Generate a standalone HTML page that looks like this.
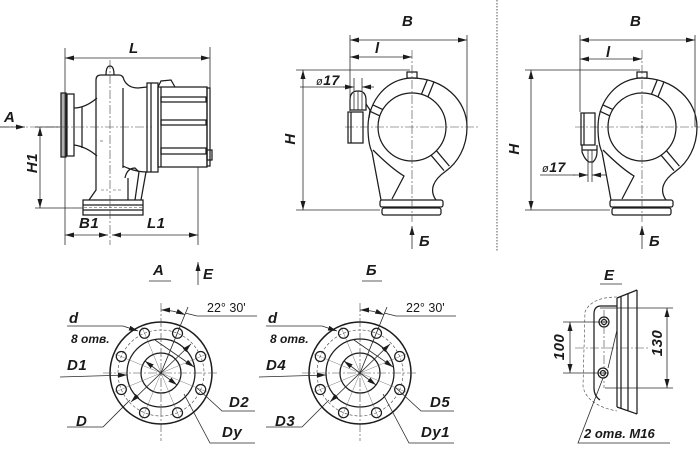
<!DOCTYPE html>
<html><head><meta charset="utf-8"><style>
html,body{margin:0;padding:0;background:#fff;}
svg{display:block;}
.s{stroke:#1c1c1c;stroke-width:1.25;fill:none;}
.t{stroke:#2a2a2a;stroke-width:0.8;fill:none;}
.c{stroke:#444;stroke-width:0.6;fill:none;stroke-dasharray:9 2 2 2;}
.d{stroke:#444;stroke-width:0.6;fill:none;stroke-dasharray:3 2;}
text{font-family:"Liberation Sans","Noto Sans CJK SC",sans-serif;fill:#1a1a1a;}
.L{font-size:15px;font-weight:bold;font-style:italic;letter-spacing:0.5px;}
.m{font-size:12px;font-weight:bold;font-style:italic;}
.n{font-size:12.5px;}
</style></head><body>
<svg width="700" height="470" viewBox="0 0 700 470" xmlns="http://www.w3.org/2000/svg">
<defs>
<marker id="a" markerWidth="9" markerHeight="5" refX="9" refY="2.5" orient="auto-start-reverse" markerUnits="userSpaceOnUse"><path d="M0,0 L9,2.5 L0,5 z" fill="#1c1c1c"/></marker>
</defs>

<!-- ============ LEFT VIEW ============ -->
<g class="s">
  <rect x="61" y="93" width="5" height="64" fill="#b0b0b0"/>
  <rect x="67" y="94" width="7" height="62"/>
  <path d="M74,108 C82,108 90,104 97,98"/>
  <path d="M74,145 C82,146 90,150 97,156"/>
  <line x1="82" y1="107" x2="82" y2="148"/>
  <path d="M89,200 L96,190 L96,80 Q96,75 101,75 L119,75 Q123,75 124,80 Q128,88 138,88 L147,87"/>
  <path d="M106,75 Q106,66 110,66 Q114,66 114,75"/>
  <line x1="123" y1="88" x2="123" y2="168"/>
  <path d="M123,166 Q135,172 147,172"/>
  <path d="M125,178 Q127,168 135,168 L139,172"/>
  <line x1="128" y1="178" x2="128" y2="200"/>
  <line x1="139" y1="172" x2="135" y2="200"/>
  <line x1="146" y1="172" x2="141" y2="200"/>
  <rect x="83" y="200" width="60" height="15"/>
  <line x1="83" y1="205" x2="143" y2="205"/>
  <line x1="83" y1="210" x2="143" y2="210"/>
  <rect x="147" y="83" width="11" height="89"/>
  <line x1="151" y1="83" x2="151" y2="172"/>
  <rect x="158" y="87" width="49" height="80"/>
  <line x1="161" y1="87" x2="161" y2="167"/>
  <rect x="207" y="88" width="3" height="78"/>
  <rect x="207" y="150" width="5" height="10"/>
  <path d="M158,87 L161,81 L171,80 L175,87"/>
  <rect x="161" y="97" width="45" height="5"/>
  <rect x="161" y="120" width="45" height="5"/>
  <rect x="161" y="148" width="45" height="6"/>
</g>
<g class="d">
  <line x1="84" y1="207.5" x2="142" y2="207.5"/>
  <line x1="100" y1="141" x2="104" y2="141"/>
  <line x1="101" y1="190" x2="108" y2="190"/>
  <line x1="113" y1="190" x2="121" y2="190"/>
</g>
<g class="c">
  <line x1="0" y1="127" x2="152" y2="127"/>
  <line x1="110" y1="60" x2="110" y2="245"/>
</g>
<g class="t">
  <line x1="65" y1="48" x2="65" y2="245"/>
  <line x1="210" y1="47" x2="210" y2="150"/>
  <line x1="198" y1="167" x2="198" y2="245"/>
  <line x1="35" y1="208" x2="83" y2="208"/>
  <line x1="35" y1="127" x2="60" y2="127"/>
  <line x1="65" y1="58" x2="210" y2="58" marker-start="url(#a)" marker-end="url(#a)"/>
  <line x1="40" y1="127" x2="40" y2="208" marker-start="url(#a)" marker-end="url(#a)"/>
  <line x1="65" y1="235" x2="108" y2="235" marker-start="url(#a)" marker-end="url(#a)"/>
  <line x1="112" y1="235" x2="198" y2="235" marker-start="url(#a)" marker-end="url(#a)"/>
  <line x1="0" y1="127" x2="25" y2="127" marker-end="url(#a)"/>
</g>
<text class="L" x="129" y="53">L</text>
<text class="L" x="4" y="122">A</text>
<text class="L" transform="translate(37,163) rotate(-90)" text-anchor="middle">H1</text>
<text class="L" x="79" y="228">B1</text>
<text class="L" x="147" y="228">L1</text>

<!-- ============ MIDDLE VIEW (volute) ============ -->
<g id="vol">
  <g class="s">
    <path d="M368,127 C368,100 388,78 412,78 C443,78 467,100 467,127 C467,148 457,163 446,171 C433,180 429,190 436,200"/>
    <path d="M368,127 C368,138 369,146 372,152 L381,200"/>
    <path d="M373,150 C385,162 394,170 404,176 L392,199"/>
    <circle cx="412" cy="127" r="34"/>
    <rect x="407" y="72" width="10" height="6"/>
    <rect x="380" y="200" width="63" height="7" rx="2"/>
    <rect x="382" y="208" width="59" height="7" rx="2"/>
    <g transform="translate(412,127) rotate(-68)"><line x1="34" y1="-3.5" x2="50" y2="-3.5"/><line x1="34" y1="3.5" x2="50" y2="3.5"/></g>
    <g transform="translate(412,127) rotate(-155)"><line x1="34" y1="-3.5" x2="45" y2="-3.5"/><line x1="34" y1="3.5" x2="45" y2="3.5"/></g>
    <g transform="translate(412,127) rotate(50)"><line x1="34" y1="-3.5" x2="54" y2="-3.5"/><line x1="34" y1="3.5" x2="54" y2="3.5"/></g>
  </g>
  <g class="c">
    <line x1="412" y1="50" x2="412" y2="222"/>
    <line x1="345" y1="127" x2="480" y2="127"/>
  </g>
  <line class="t" x1="412" y1="249" x2="412" y2="226" marker-end="url(#a)"/>
</g>
<use href="#vol" x="230"/>

<!-- middle valve -->
<g class="s">
  <path d="M350,110 L350,100 Q350,91 358,91 Q366,91 366,100 L366,110 Z"/>
  <rect x="348" y="112" width="15" height="31"/>
  <line x1="351" y1="112" x2="351" y2="143"/>
  <path d="M366,104 L370,110 L369,118"/>
</g>
<g class="t">
  <line x1="354" y1="93" x2="354" y2="110"/><line x1="358" y1="91" x2="358" y2="110"/><line x1="362" y1="93" x2="362" y2="110"/>
  <line x1="354" y1="78" x2="354" y2="92"/><line x1="362" y1="78" x2="362" y2="92"/>
  <line x1="300" y1="87" x2="345" y2="87"/>
  <line x1="343" y1="87" x2="354" y2="87" marker-end="url(#a)"/>
  <line x1="374" y1="87" x2="362" y2="87" marker-end="url(#a)"/>
  <line x1="350" y1="35" x2="350" y2="111"/>
  <line x1="467" y1="35" x2="467" y2="125"/>
  <line x1="296" y1="70" x2="410" y2="70"/>
  <line x1="296" y1="210" x2="380" y2="210"/>
  <line x1="350" y1="40" x2="467" y2="40" marker-start="url(#a)" marker-end="url(#a)"/>
  <line x1="350" y1="57" x2="412" y2="57" marker-start="url(#a)" marker-end="url(#a)"/>
  <line x1="303" y1="70" x2="303" y2="210" marker-start="url(#a)" marker-end="url(#a)"/>
</g>
<text class="L" x="402" y="26">B</text>
<text class="L" x="375" y="53">l</text>
<text class="L" transform="translate(295,139) rotate(-90)" text-anchor="middle">H</text>
<text class="L" x="316" y="85" style="font-size:14px"><tspan style="font-weight:normal;font-size:11px">ø</tspan>17</text>
<text class="L" x="419" y="246">Б</text>

<!-- divider -->
<line x1="497" y1="0" x2="497" y2="252" stroke="#555" stroke-width="1" stroke-dasharray="1.5 1.5"/>

<!-- ============ RIGHT VIEW ============ -->
<g class="s">
  <rect x="581" y="113" width="14" height="32"/>
  <line x1="584" y1="113" x2="584" y2="145"/>
  <path d="M582,145 L582,152 Q585,160 589,162 L593,162 Q597,158 597,152 L597,145"/>
  <line x1="582" y1="150" x2="597" y2="150"/>
</g>
<g class="t">
  <line x1="588" y1="150" x2="588" y2="182"/><line x1="592" y1="150" x2="592" y2="182"/>
  <line x1="540" y1="175" x2="575" y2="175"/>
  <line x1="573" y1="175" x2="588" y2="175" marker-end="url(#a)"/>
  <line x1="607" y1="175" x2="592" y2="175" marker-end="url(#a)"/>
  <line x1="580" y1="35" x2="580" y2="112"/>
  <line x1="695" y1="35" x2="695" y2="127"/>
  <line x1="525" y1="70" x2="640" y2="70"/>
  <line x1="525" y1="210" x2="610" y2="210"/>
  <line x1="580" y1="40" x2="695" y2="40" marker-start="url(#a)" marker-end="url(#a)"/>
  <line x1="580" y1="59" x2="642" y2="59" marker-start="url(#a)" marker-end="url(#a)"/>
  <line x1="531" y1="70" x2="531" y2="210" marker-start="url(#a)" marker-end="url(#a)"/>
</g>
<text class="L" x="630" y="26">B</text>
<text class="L" x="606" y="57">l</text>
<text class="L" transform="translate(519,149) rotate(-90)" text-anchor="middle">H</text>
<text class="L" x="542" y="172" style="font-size:14px"><tspan style="font-weight:normal;font-size:11px">ø</tspan>17</text>
<text class="L" x="649" y="246">Б</text>

<!-- ============ FLANGE VIEWS ============ -->
<g id="fl" transform="translate(161,373)">
  <g class="s">
    <circle r="51" stroke-width="1.5"/>
    <circle r="34"/>
    <circle r="20"/>
    <circle cx="16.5" cy="-39.7" r="5"/><circle cx="39.7" cy="-16.5" r="5"/>
    <circle cx="39.7" cy="16.5" r="5"/><circle cx="16.5" cy="39.7" r="5"/>
    <circle cx="-16.5" cy="39.7" r="5"/><circle cx="-39.7" cy="16.5" r="5"/>
    <circle cx="-39.7" cy="-16.5" r="5"/><circle cx="-16.5" cy="-39.7" r="5"/>
  </g>
  <circle class="d" r="43"/>
  <g stroke="#555" stroke-width="0.4">
    <line x1="0" y1="0" x2="19" y2="-46"/><line x1="0" y1="0" x2="46" y2="-19"/>
    <line x1="0" y1="0" x2="46" y2="19"/><line x1="0" y1="0" x2="19" y2="46"/>
    <line x1="0" y1="0" x2="-19" y2="46"/><line x1="0" y1="0" x2="-46" y2="19"/>
    <line x1="0" y1="0" x2="-46" y2="-19"/><line x1="0" y1="0" x2="-19" y2="-46"/>
  </g>
  <g class="c">
    <line x1="0" y1="-70" x2="0" y2="68"/>
    <line x1="-58" y1="0" x2="58" y2="0"/>
  </g>
  <g class="t">
    <line x1="0" y1="0" x2="27" y2="-66"/>
    <path d="M0,-63 A63,63 0 0 1 24.1,-58.2" marker-start="url(#a)" marker-end="url(#a)"/>
    <polyline points="24,-60 36,-57 96,-57"/>
    <polyline points="-94,-47 -38,-47 -23,-42" marker-end="url(#a)"/>
    <line x1="-101" y1="4" x2="-34" y2="2" marker-end="url(#a)"/>
    <line x1="-16" y1="-12" x2="16" y2="12" marker-start="url(#a)" marker-end="url(#a)"/>
    <line x1="30" y1="-29" x2="-30" y2="29" marker-start="url(#a)" marker-end="url(#a)"/>
    <line x1="-6" y1="-33" x2="33" y2="-6" marker-end="url(#a)"/>
    <polyline points="-94,54 -58,54 -31,27"/>
    <polyline points="94,38 61,38 36,15"/>
    <polyline points="94,70 49,70 23,21"/>
  </g>
</g>
<use href="#fl" x="199"/>

<!-- A flange labels -->
<text class="L" x="153" y="275">A</text>
<line class="t" x1="149" y1="281" x2="171" y2="281"/>
<line class="t" x1="198" y1="285" x2="198" y2="262" marker-end="url(#a)"/>
<text class="L" x="203" y="279">E</text>
<text class="n" x="207" y="312">22° 30'</text>
<text class="L" x="69" y="323">d</text>
<text class="m" x="71" y="343">8 отв.</text>
<text class="L" x="67" y="370">D1</text>
<text class="L" x="76" y="426">D</text>
<text class="L" x="229" y="407">D2</text>
<text class="L" x="222" y="437">Dy</text>

<!-- Б flange labels -->
<text class="L" x="366" y="275">Б</text>
<line class="t" x1="362" y1="281" x2="382" y2="281"/>
<text class="n" x="406" y="312">22° 30'</text>
<text class="L" x="268" y="323">d</text>
<text class="m" x="270" y="343">8 отв.</text>
<text class="L" x="266" y="370">D4</text>
<text class="L" x="275" y="426">D3</text>
<text class="L" x="430" y="407">D5</text>
<text class="L" x="421" y="437">Dy1</text>

<!-- ============ E VIEW ============ -->
<text class="L" x="604" y="280">E</text>
<line class="t" x1="600" y1="284" x2="622" y2="284"/>
<g class="s">
  <line x1="617" y1="298" x2="617" y2="407"/>
  <line x1="621" y1="297" x2="621" y2="409"/>
  <line x1="628" y1="294" x2="628" y2="411"/>
  <line x1="637" y1="290" x2="637" y2="414"/>
  <line x1="617" y1="298" x2="637" y2="290"/>
  <line x1="617" y1="407" x2="637" y2="414"/>
  <path d="M617,306 L601,306 Q594,306 594,314 L594,388 Q594,396 600,400"/>
  <circle cx="604" cy="322" r="5"/><circle cx="604" cy="322" r="2.5"/>
  <circle cx="603" cy="373" r="5"/><circle cx="603" cy="373" r="2.5"/>
</g>
<path class="d" d="M617,297 C604,297 590,300 585,312 L583,386 C585,400 600,408 617,411"/>
<g class="c">
  <line x1="575" y1="348" x2="650" y2="348"/>
  <line x1="604" y1="310" x2="604" y2="388"/>
</g>
<g class="t">
  <line x1="600" y1="308" x2="673" y2="308"/>
  <line x1="605" y1="388" x2="673" y2="388"/>
  <line x1="563" y1="322" x2="608" y2="322"/>
  <line x1="563" y1="373" x2="608" y2="373"/>
  <line x1="570" y1="322" x2="570" y2="373" marker-start="url(#a)" marker-end="url(#a)"/>
  <line x1="667" y1="308" x2="667" y2="388" marker-start="url(#a)" marker-end="url(#a)"/>
  <polyline points="603,378 578,443 670,443"/>
  <line x1="617" y1="330" x2="608" y2="368"/>
</g>
<text class="L" transform="translate(564,347) rotate(-90)" text-anchor="middle">100</text>
<text class="L" transform="translate(662,343) rotate(-90)" text-anchor="middle">130</text>
<text class="m" x="584" y="438" style="font-size:13px">2 отв. M16</text>
</svg>
</body></html>
